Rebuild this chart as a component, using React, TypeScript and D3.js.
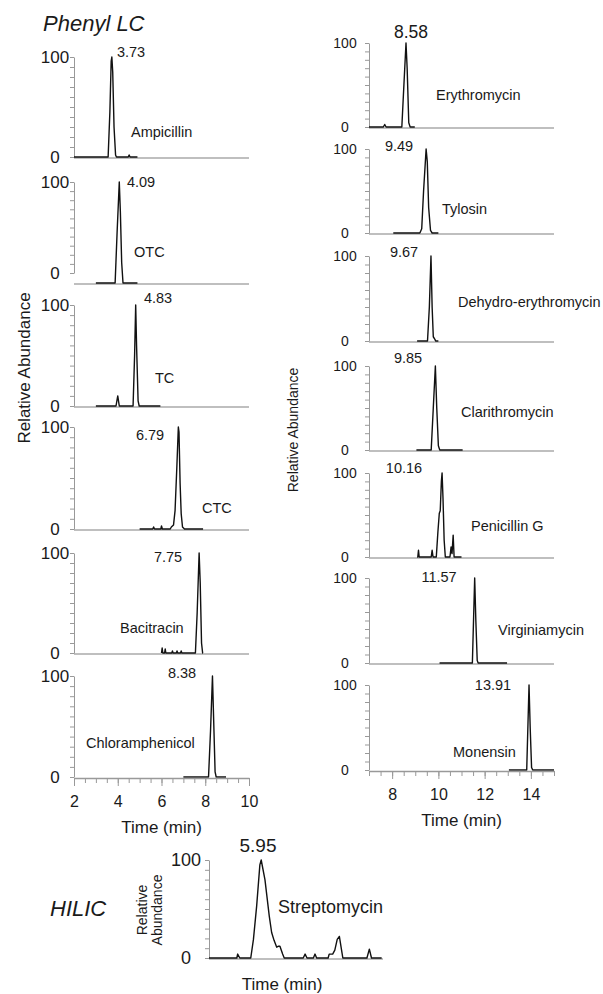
import * as d3 from 'd3';
import React, { useEffect, useRef } from 'react';

const FONT = '"Liberation Sans", Arial, sans-serif';

// Phenyl LC, left column: [time (min), relative abundance]
const ampicillin = [[2.0, 0], [3.56, 0], [3.64, 45], [3.7, 96], [3.73, 100], [3.77, 85], [3.83, 30], [3.9, 2], [3.94, 0], [4.48, 0], [4.52, 2], [4.56, 0], [4.9, 0]];
const otc = [[3.0, 0], [3.88, 0], [3.97, 50], [4.07, 100], [4.12, 70], [4.18, 20], [4.24, 0], [4.9, 0]];
const tc = [[3.0, 0], [3.92, 0], [4.0, 10], [4.07, 0], [4.7, 0], [4.77, 50], [4.82, 100], [4.86, 60], [4.93, 5], [4.98, 0], [5.95, 0]];
const ctc = [[5.0, 0], [5.6, 0], [5.64, 2], [5.68, 0], [5.97, 0], [6.0, 3], [6.04, 0], [6.4, 0], [6.45, 2], [6.55, 4], [6.62, 18], [6.7, 60], [6.77, 100], [6.8, 95], [6.85, 45], [6.9, 15], [6.96, 2], [7.05, 0], [7.9, 0]];
const bacitracin = [[6.0, 0], [6.03, 5], [6.06, 0], [6.14, 0], [6.17, 4], [6.2, 0], [6.47, 0], [6.5, 2], [6.53, 0], [6.68, 0], [6.71, 2], [6.74, 0], [6.87, 0], [6.9, 2], [6.93, 0], [7.55, 0], [7.63, 40], [7.72, 100], [7.77, 70], [7.83, 10], [7.88, 0], [7.9, 0]];
const chloramphenicol = [[7.0, 0], [8.15, 0], [8.24, 45], [8.33, 100], [8.38, 60], [8.45, 5], [8.5, 0], [8.95, 0]];

const leftTraces = [ampicillin, otc, tc, ctc, bacitracin, chloramphenicol];
const leftNames = ['Ampicillin', 'OTC', 'TC', 'CTC', 'Bacitracin', 'Chloramphenicol'];
const leftPeaks = ['3.73', '4.09', '4.83', '6.79', '7.75', '8.38'];
const leftTicks = [2, 4, 6, 8, 10];

// right column
const erythromycin = [[7.0, 0], [7.62, 0], [7.68, 3], [7.74, 0], [8.42, 0], [8.5, 45], [8.6, 100], [8.65, 70], [8.72, 5], [8.78, 0], [8.98, 0]];
const tylosin = [[8.05, 0], [9.2, 0], [9.28, 5], [9.36, 50], [9.47, 100], [9.52, 85], [9.58, 30], [9.66, 3], [9.73, 0], [10.0, 0]];
const dehydroErythromycin = [[9.08, 0], [9.53, 0], [9.61, 40], [9.68, 100], [9.73, 40], [9.78, 5], [9.85, 2], [9.88, 0], [10.0, 0]];
const clarithromycin = [[9.05, 0], [9.69, 0], [9.78, 50], [9.87, 100], [9.93, 50], [10.0, 5], [10.06, 0], [11.05, 0]];
const penicillinG = [[9.08, 0], [9.11, 0], [9.14, 8], [9.17, 0], [9.69, 0], [9.73, 8], [9.77, 0], [9.91, 0], [9.98, 30], [10.04, 52], [10.08, 55], [10.13, 90], [10.16, 100], [10.2, 70], [10.25, 20], [10.3, 0], [10.5, 0], [10.55, 12], [10.59, 4], [10.64, 26], [10.68, 0], [11.0, 0]];
const virginiamycin = [[10.05, 0], [11.47, 0], [11.52, 50], [11.57, 100], [11.62, 50], [11.68, 3], [11.72, 0], [12.97, 0]];
const monensin = [[13.05, 0], [13.82, 0], [13.87, 50], [13.92, 100], [13.97, 50], [14.03, 3], [14.08, 0], [15.0, 0]];

const rightTraces = [erythromycin, tylosin, dehydroErythromycin, clarithromycin, penicillinG, virginiamycin, monensin];
const rightNames = ['Erythromycin', 'Tylosin', 'Dehydro-erythromycin', 'Clarithromycin', 'Penicillin G', 'Virginiamycin', 'Monensin'];
const rightPeaks = ['8.58', '9.49', '9.67', '9.85', '10.16', '11.57', '13.91'];
const rightTicks = [8, 10, 12, 14];

// HILIC
const streptomycin = [[4.0, 0], [5.04, 0], [5.07, 4], [5.15, 0], [5.56, 0], [5.66, 19], [5.78, 53], [5.9, 95], [5.95, 100], [6.09, 80], [6.25, 43], [6.34, 26], [6.43, 18], [6.53, 11], [6.6, 12], [6.65, 12], [6.75, 4], [6.81, 0], [7.52, 0], [7.59, 4], [7.66, 0], [7.9, 0], [7.96, 4], [8.02, 0], [8.45, 0], [8.49, 4], [8.62, 4], [8.7, 8], [8.79, 19], [8.87, 22], [8.94, 10], [9.0, 0], [9.9, 0], [9.99, 9], [10.07, 0], [10.45, 0]];
const hilicName = 'Streptomycin';
const hilicPeak = '5.95';

// layout (pixels)
const leftPanels = [
  { top: 57, bottom: 157, base: 157, peakX: 131, peakY: 52, nameX: 131, nameY: 132 },
  { top: 182, bottom: 273, base: 283, peakX: 141, peakY: 182, nameX: 134, nameY: 252 },
  { top: 305, bottom: 406, base: 406, peakX: 158, peakY: 298, nameX: 155, nameY: 378 },
  { top: 427, bottom: 529, base: 529, peakX: 150, peakY: 435, nameX: 202, nameY: 508 },
  { top: 553, bottom: 653, base: 653, peakX: 168, peakY: 557, nameX: 120, nameY: 628 },
  { top: 676, bottom: 777, base: 777, peakX: 182, peakY: 673, nameX: 86, nameY: 743 },
];
const rightPanels = [
  { top: 43, bottom: 127, base: 127, peakX: 411, peakY: 32, nameX: 436, nameY: 95 },
  { top: 149, bottom: 233, base: 233, peakX: 399, peakY: 146, nameX: 442, nameY: 209 },
  { top: 256, bottom: 341, base: 341, peakX: 404, peakY: 252, nameX: 458, nameY: 302 },
  { top: 366, bottom: 450, base: 450, peakX: 408, peakY: 358, nameX: 461, nameY: 412 },
  { top: 473, bottom: 557, base: 557, peakX: 404, peakY: 468, nameX: 471, nameY: 526 },
  { top: 578, bottom: 663, base: 663, peakX: 439, peakY: 577, nameX: 498, nameY: 630 },
  { top: 685, bottom: 770, base: 770, peakX: 493, peakY: 685, nameX: 453, nameY: 752 },
];
const hilicPanel = { top: 860, bottom: 958, base: 958, peakX: 258, peakY: 845, nameX: 278, nameY: 907 };

const App = () => {
  const ref = useRef<SVGSVGElement>(null);

  useEffect(() => {
    const svg = d3.select(ref.current);
    svg.selectAll('*').remove();
    svg.style('font-family', FONT);

    const xLeft = d3.scaleLinear().domain([2, 10]).range([74, 249]);
    const xRight = d3.scaleLinear().domain([7, 15]).range([369, 554]);
    const xHilic = d3.scaleLinear().domain([4, 10.5]).range([209, 383]);

    const label = (x, y, txt, size, anchor = 'middle', italic = false) =>
      svg.append('text')
        .attr('x', x).attr('y', y + size * 0.36)
        .attr('text-anchor', anchor)
        .attr('font-size', size)
        .attr('font-style', italic ? 'italic' : 'normal')
        .attr('fill', '#1a1a1a')
        .text(txt);

    const drawPanel = (x, p, data, peak, name, o) => {
      const yAxis = d3.scaleLinear().domain([0, 100]).range([p.bottom, p.top]);
      const yTrace = d3.scaleLinear().domain([0, 100]).range([p.base, p.top]);
      const [x0, x1] = x.range();

      if (!o.noBase) {
        svg.append('line')
          .attr('x1', x0).attr('x2', x1)
          .attr('y1', p.base + 1).attr('y2', p.base + 1)
          .attr('stroke', '#aaa').attr('stroke-width', 1.5);
      }

      svg.append('g')
        .attr('transform', `translate(${x0},0)`)
        .attr('color', '#999')
        .call(d3.axisLeft(yAxis).tickValues(d3.range(0, 101, 10)).tickSize(4).tickSizeOuter(0).tickFormat(() => ''))
        .call(g => g.select('.domain').attr('stroke-width', 1));

      label(o.lblX, yAxis(100), '100', o.tickFont);
      label(o.lblX, yAxis(0), '0', o.tickFont);

      svg.append('path')
        .datum(data)
        .attr('d', d3.line().x(d => x(d[0])).y(d => yTrace(d[1])))
        .attr('fill', 'none')
        .attr('stroke', '#111')
        .attr('stroke-width', 1.4)
        .attr('stroke-linejoin', 'round');

      label(p.peakX, p.peakY, peak, o.peakFont);
      label(p.nameX, p.nameY, name, o.nameFont, 'start');
    };

    // bottom time axis: minor ticks every 0.5 min, labelled major ticks
    const timeAxis = (x, y, ticks) => {
      const [a, b] = x.domain();
      svg.append('g')
        .attr('transform', `translate(0,${y + 1})`)
        .attr('color', '#999')
        .call(d3.axisBottom(x).tickValues(d3.range(a, b + 0.01, 0.5)).tickSize(5).tickSizeOuter(0).tickFormat(() => ''))
        .call(g => g.select('.domain').attr('stroke-width', 1.5));
      svg.append('g')
        .attr('transform', `translate(0,${y + 1})`)
        .attr('color', '#999')
        .call(d3.axisBottom(x).tickValues(ticks).tickSize(8).tickFormat(d3.format('d')))
        .call(g => g.select('.domain').remove())
        .call(g => g.selectAll('text')
          .attr('fill', '#1a1a1a').attr('font-size', 16).attr('font-family', FONT)
          .attr('y', 18).attr('dy', '0.71em'));
      const [r0, r1] = x.range();
      label((r0 + r1) / 2, y + 50, 'Time (min)', 17);
    };

    leftPanels.forEach((p, i) =>
      drawPanel(xLeft, p, leftTraces[i], leftPeaks[i], leftNames[i],
        { lblX: 55, tickFont: 17, peakFont: 14.5, nameFont: 14.5, noBase: i === leftPanels.length - 1 }));
    timeAxis(xLeft, leftPanels[leftPanels.length - 1].bottom, leftTicks);

    rightPanels.forEach((p, i) =>
      drawPanel(xRight, p, rightTraces[i], rightPeaks[i], rightNames[i],
        { lblX: 345, tickFont: 14, peakFont: i === 0 ? 17.5 : 14.5, nameFont: 14.5, noBase: i === rightPanels.length - 1 }));
    timeAxis(xRight, rightPanels[rightPanels.length - 1].bottom, rightTicks);

    drawPanel(xHilic, hilicPanel, streptomycin, hilicPeak, hilicName,
      { lblX: 186, tickFont: 18, peakFont: 19, nameFont: 18, noBase: false });
    label(282, 984, 'Time (min)', 17);

    // titles
    label(43, 23, 'Phenyl LC', 22, 'start', true);
    label(50, 908, 'HILIC', 22, 'start', true);

    svg.append('text')
      .attr('transform', 'translate(30,368) rotate(-90)')
      .attr('text-anchor', 'middle').attr('font-size', 17).attr('fill', '#1a1a1a')
      .text('Relative Abundance');
    svg.append('text')
      .attr('transform', 'translate(298,430) rotate(-90)')
      .attr('text-anchor', 'middle').attr('font-size', 14).attr('fill', '#1a1a1a')
      .text('Relative Abundance');
    svg.append('text')
      .attr('transform', 'translate(147,910) rotate(-90)')
      .attr('text-anchor', 'middle').attr('font-size', 14).attr('fill', '#1a1a1a')
      .text('Relative');
    svg.append('text')
      .attr('transform', 'translate(162,910) rotate(-90)')
      .attr('text-anchor', 'middle').attr('font-size', 14).attr('fill', '#1a1a1a')
      .text('Abundance');
  }, []);

  return (
    <svg ref={ref} width={603} height={994}
      style={{ position: 'absolute', left: 0, top: 0, background: '#fff' }} />
  );
};

export default App;
